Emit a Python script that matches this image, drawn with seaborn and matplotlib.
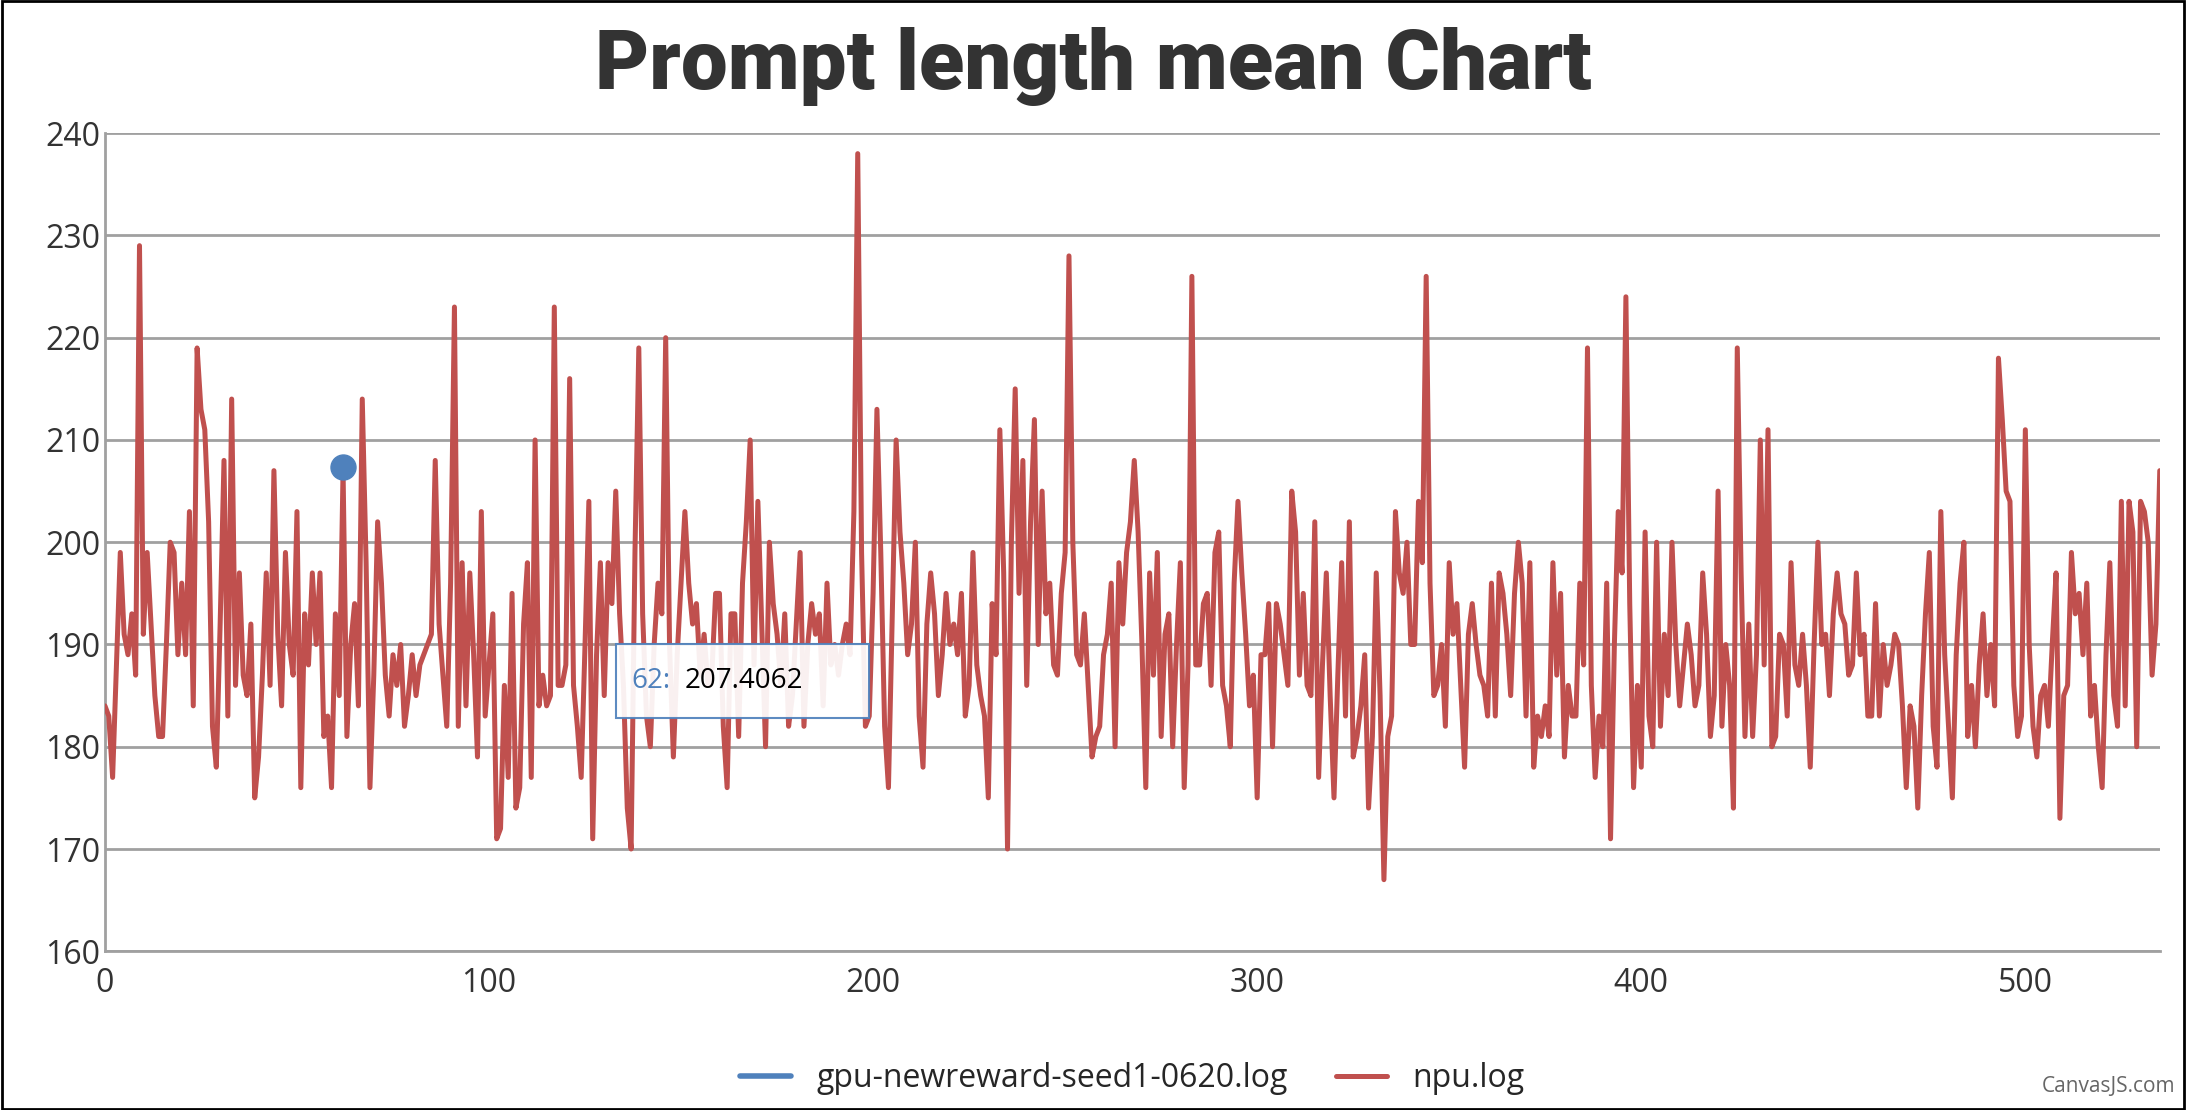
import numpy as np
import pandas as pd
import matplotlib.pyplot as plt
import seaborn as sns

# npu.log prompt length mean (536 steps, 0..535)
npu_values = (
    # 0..195
    [184, 183, 177, 188, 199, 191, 189, 193, 187, 229, 191, 199, 192, 185, 181, 181, 190, 200, 199, 189,
     196, 189, 203, 184, 219, 213, 211, 202, 182, 178, 192, 208, 183, 214, 186, 197, 187, 185, 192, 175,
     179, 187, 197, 186, 207, 191, 184, 199, 190, 187, 203, 176, 193, 188, 197, 190, 197, 181, 183, 176,
     193, 185, 207, 181, 190, 194, 184, 214, 198, 176, 187, 202, 196, 187, 183, 189, 186, 190, 182, 185,
     189, 185, 188, 189, 190, 191, 208, 192, 187, 182, 196, 223, 182, 198, 184, 197, 189, 179, 203, 183,
     188, 193, 171, 172, 186, 177, 195, 174, 176, 192, 198, 177, 210, 184, 187, 184, 185, 223, 186, 186,
     188, 216, 186, 182, 177, 190, 204, 171, 189, 198, 185, 198, 194, 205, 193, 186, 174, 170, 199, 219,
     193, 183, 180, 190, 196, 193, 220, 190, 179, 189, 196, 203, 196, 192, 194, 187, 191, 186, 187, 195,
     195, 182, 176, 193, 193, 181, 196, 202, 210, 188, 204, 192, 180, 200, 194, 191, 186, 193, 182, 185,
     192, 199, 182, 190, 194, 191, 193, 184, 196, 188, 190, 187, 190, 192, 189, 203]
    # 196..250
    + [238, 199, 182, 183, 195, 213, 199, 182, 176,
       193, 210, 201, 196, 189, 192, 200, 183, 178, 192, 197, 193, 185, 189, 195, 190, 192, 189, 195, 183,
       186, 199, 188, 185, 183, 175, 194, 189, 211, 197,
       170, 200, 215, 195, 208, 186, 202, 212, 190, 205, 193, 196, 188, 187, 195, 199]
    # 251..282
    + [228, 200, 189, 188, 193,
       186, 179, 181, 182, 189, 191, 196, 180, 198, 192, 199, 202, 208, 201,
       190, 176, 197, 187, 199, 181, 191, 193, 180, 190, 198, 176, 188]
    # 283..332
    + [226, 188, 188, 194, 195, 186, 199,
       201, 186, 184, 180, 196, 204, 197, 191, 184, 187, 175, 189, 189, 194, 180, 194, 192, 189, 186, 205,
       201, 187, 195, 186, 185, 202,
       177, 188, 197, 185, 175, 187, 198, 183, 202, 179, 181, 184, 189, 174, 181, 197, 185]
    # 333..343
    + [167, 181, 183, 203, 197, 195, 200, 190, 190, 204, 198]
    # 344..385
    + [226, 196, 185, 186, 190, 182, 198, 191, 194, 186,
       178, 191, 194, 190, 187, 186, 183, 196, 183, 197, 195, 191, 185, 195, 200, 196,
       183, 198, 178, 183, 181, 184, 181, 198, 187, 195, 179, 186, 183, 183, 196, 188]
    # 386..395
    + [219, 186, 177, 183, 180, 196, 171, 190, 203, 197]
    # 396..424
    + [224, 194, 176, 186, 178, 201, 183, 180, 200, 182,
       191, 185, 200, 190, 184, 188, 192, 189, 184, 186, 197, 191, 181, 185, 205, 182, 190,
       186, 174]
    # 425..492
    + [219, 197, 181, 192, 181, 189, 210, 188, 211, 180, 181, 191, 190, 183, 198, 188, 186, 191,
       186, 178, 190, 200, 190, 191, 185, 193, 197, 193, 192, 187, 188, 197, 189, 191, 183, 183, 194, 183,
       190, 186, 188, 191, 190, 184, 176, 184, 182, 174, 185, 193, 199, 182, 178, 203, 189, 182, 175, 189,
       196, 200, 181, 186, 180, 188, 193, 185, 190, 184]
    # 493..535
    + [218, 212, 205, 204, 186, 181, 183, 211, 190, 182, 179, 185, 186, 182, 190, 197, 173, 185, 186, 199,
       193, 195, 189, 196, 183, 186, 180, 176, 189, 198, 185, 182, 204, 184, 204, 201, 180, 204, 203, 200,
       187, 192, 207]
)
gpu_x, gpu_y = [62], [207.4062]

df = pd.DataFrame({"step": np.arange(len(npu_values)), "value": npu_values})

sns.set_style("white")
plt.rcParams["font.family"] = ["Open Sans", "DejaVu Sans"]

fig = plt.figure(figsize=(21.86, 11.10), dpi=100)
ax = fig.add_axes([0.048, 0.143, 0.94, 0.737])

sns.lineplot(data=df, x="step", y="value", color="#C0504E", linewidth=3.6, ax=ax,
             label="npu.log", zorder=3)
ax.plot(gpu_x, gpu_y, "o", color="#4F81BC", markersize=18, zorder=4)
ax.plot([], [], color="#4F81BC", linewidth=4, label="gpu-newreward-seed1-0620.log")

ax.set_xlim(0, 535)
ax.set_ylim(160, 240)
ax.set_yticks(range(160, 241, 10))
ax.set_xticks([0, 100, 200, 300, 400, 500])
ax.yaxis.grid(True, color="#A0A0A0", linewidth=2)
ax.set_axisbelow(True)
for s in ["top", "right"]:
    ax.spines[s].set_visible(False)
for s in ["left", "bottom"]:
    ax.spines[s].set_color("#A0A0A0")
    ax.spines[s].set_linewidth(2)
ax.tick_params(labelsize=23, colors="#333333", length=8, width=1.5)
ax.tick_params(axis="y", length=0)
ax.set_xlabel("")
ax.set_ylabel("")

h, l = ax.get_legend_handles_labels()
ax.legend(h[::-1], l[::-1], loc="upper center", bbox_to_anchor=(0.5, -0.1),
          ncol=2, frameon=False, fontsize=23, handlelength=1.6, columnspacing=1.5)

fig.text(0.5, 0.94, "Prompt length mean Chart", ha="center", va="center",
         fontsize=60, fontweight="black", color="#333333", family=["Roboto", "DejaVu Sans"])

# tooltip
box = plt.Rectangle((133, 182.8), 66, 7.2, facecolor="white", edgecolor="#4F81BC",
                    alpha=0.92, linewidth=1.5, zorder=5)
ax.add_patch(box)
ax.text(137, 186.4, "62:", color="#4F81BC", fontsize=20, va="center", zorder=6)
ax.text(151, 186.4, "207.4062", color="black", fontsize=20, va="center", zorder=6)

fig.text(0.995, 0.012, "CanvasJS.com", ha="right", va="bottom", fontsize=15, color="#666666")
fig.patches.append(plt.Rectangle((0.001, 0.001), 0.998, 0.998, transform=fig.transFigure,
                                 fill=False, edgecolor="black", linewidth=2))

fig.savefig("out.png", dpi=100)
